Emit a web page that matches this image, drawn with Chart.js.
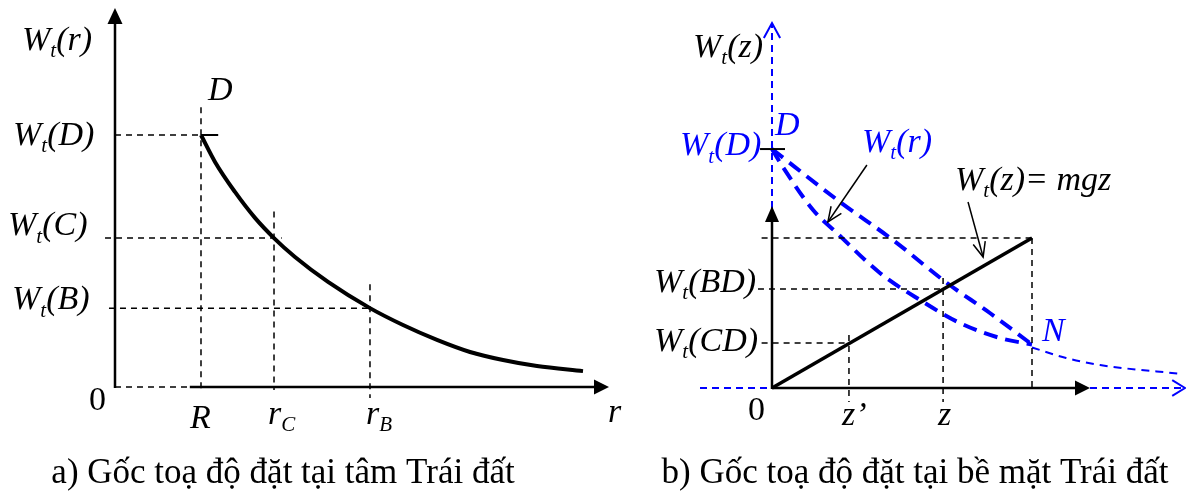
<!DOCTYPE html>
<html><head><meta charset="utf-8">
<script src="https://cdn.jsdelivr.net/npm/chart.js@4.4.1/dist/chart.umd.min.js"></script>
<style>
html,body{margin:0;padding:0;background:#fff;}
#wrap{position:relative;width:1186px;height:496px;overflow:hidden;}
canvas{position:absolute;top:0;}
</style>
</head><body>
<div id="wrap">
<canvas id="ca" width="640" height="496" style="left:0"></canvas>
<canvas id="cb" width="593" height="496" style="left:593px"></canvas>
</div>
<script>
// ---------- Panel a: origin at Earth's centre (r in units of R, W in units of Wt(D)) ----------
const rTickLabels = ['R', 'r_C', 'r_B'];
const rTickValues = [1.0, 1.849, 2.965];
const wTickLabels = ['W_t(D)', 'W_t(C)', 'W_t(B)'];
const wTickValues = [1.0, 0.591, 0.313];
const curveR = [1.0, 1.163, 1.395, 1.628, 1.849, 2.093, 2.477, 2.965, 3.349, 3.744, 4.128, 4.512, 4.907, 5.442];
const curveW = [1.0, 0.893, 0.774, 0.671, 0.591, 0.516, 0.417, 0.313, 0.246, 0.187, 0.139, 0.107, 0.083, 0.063];

// ---------- Panel b: origin at Earth's surface (z in units of h, W in units of mgh) ----------
const zTickLabels = ['z’', 'z'];
const zTickValues = [0.296, 0.658];
const wzTickLabels = ['W_t(CD)', 'W_t(BD)'];
const wzTickValues = [0.30, 0.66];
const zTop = 1.0;           // top of the straight segment (N level)
const mgzZ = [0, 1.0];
const mgzW = [0, 1.0];
const wD_b = 1.593;          // Wt(D) in panel b
const upperZ = [0, 0.262, 0.465, 0.673, 0.838, 1.0];
const upperW = [1.593, 1.24, 0.987, 0.70, 0.50, 0.29];
const lowerZ = [0, 0.042, 0.158, 0.25, 0.415, 0.569, 0.723, 0.877, 1.0];
const lowerW = [1.593, 1.473, 1.187, 1.033, 0.767, 0.587, 0.433, 0.333, 0.29];
const tailZ = [1.0, 1.131, 1.262, 1.581];
const tailW = [0.27, 0.20, 0.153, 0.093];

const BLUE = '#0000ff';
const SERIF = '"Liberation Serif", "Times New Roman", serif';
const LSIZE = 34;

function pts(xs, ys) { return xs.map((x, i) => ({x: x, y: ys[i]})); }
function seg(x1, y1, x2, y2, extra) {
  return Object.assign({data: [{x: x1, y: y1}, {x: x2, y: y2}], borderColor: '#000', borderWidth: 1.5,
    borderDash: [6, 5], pointRadius: 0, showLine: true, fill: false}, extra || {});
}
function rich(ctx, str, x, y, size, color, align, italic) {
  const parts = [];
  let buf = '';
  for (let i = 0; i < str.length; i++) {
    if (str[i] === '_') { if (buf) parts.push({t: buf}); buf = ''; parts.push({t: str[i + 1], sub: true}); i++; }
    else buf += str[i];
  }
  if (buf) parts.push({t: buf});
  const it = italic === false ? '' : 'italic ';
  const font = p => it + (p.sub ? Math.round(size * 0.62) : size) + 'px ' + SERIF;
  ctx.save();
  ctx.fillStyle = color; ctx.textBaseline = 'alphabetic'; ctx.textAlign = 'left';
  let w = 0;
  parts.forEach(p => { ctx.font = font(p); p.w = ctx.measureText(p.t).width; w += p.w; });
  let cx = align === 'center' ? x - w / 2 : (align === 'right' ? x - w : x);
  parts.forEach(p => { ctx.font = font(p); ctx.fillText(p.t, cx, y + (p.sub ? size * 0.22 : 0)); cx += p.w; });
  ctx.restore();
}
function line(ctx, x1, y1, x2, y2, w, color, dash) {
  ctx.save(); ctx.beginPath(); ctx.strokeStyle = color; ctx.lineWidth = w; ctx.setLineDash(dash || []);
  ctx.moveTo(x1, y1); ctx.lineTo(x2, y2); ctx.stroke(); ctx.restore();
}
function tri(ctx, pts, color) {
  ctx.save(); ctx.beginPath(); ctx.fillStyle = color; ctx.moveTo(pts[0], pts[1]);
  ctx.lineTo(pts[2], pts[3]); ctx.lineTo(pts[4], pts[5]); ctx.closePath(); ctx.fill(); ctx.restore();
}
function vee(ctx, tx, ty, fx, fy, len, half, w, color) {
  const a = Math.atan2(ty - fy, tx - fx);
  ctx.save(); ctx.beginPath(); ctx.strokeStyle = color; ctx.lineWidth = w; ctx.setLineDash([]);
  ctx.moveTo(tx - len * Math.cos(a - half), ty - len * Math.sin(a - half));
  ctx.lineTo(tx, ty);
  ctx.lineTo(tx - len * Math.cos(a + half), ty - len * Math.sin(a + half));
  ctx.stroke(); ctx.restore();
}
const baseOpts = (xmin, xmax, ymin, ymax) => ({
  responsive: false, animation: false, events: [],
  layout: {padding: 0, autoPadding: false},
  plugins: {legend: {display: false}, tooltip: {enabled: false}, title: {display: false}},
  scales: {
    x: {type: 'linear', min: xmin, max: xmax, display: false},
    y: {type: 'linear', min: ymin, max: ymax, display: false}
  }
});

// ---------------- Chart a ----------------
const [R, rC, rB] = rTickValues;
const [WD, WC, WB] = wTickValues;
const dsA = [
  seg(0, WD, R, WD),
  seg(-0.116, WC, rC + 0.09, WC),
  seg(-0.07, WB, rB, WB),
  seg(R, WD + 0.11, R, -0.012),
  seg(rC, WC + 0.105, rC, -0.012),
  seg(rB, WB + 0.095, rB, -0.044),
  seg(R, WD, R + 0.2, WD, {borderDash: [], borderWidth: 2}),
  {data: pts(curveR, curveW), borderColor: '#000', borderWidth: 4, pointRadius: 0, showLine: true,
   cubicInterpolationMode: 'monotone', fill: false}
];
const plugA = {
  id: 'panelA',
  beforeDatasetsDraw(chart) {
    const ctx = chart.ctx, X = v => chart.scales.x.getPixelForValue(v), Y = v => chart.scales.y.getPixelForValue(v);
    const x0 = X(0), y0 = Y(0);
    line(ctx, x0, y0 + 1, x0, 22, 2.5, '#000');
    tri(ctx, [x0, 8, x0 - 7.5, 24, x0 + 7.5, 24], '#000');
    line(ctx, x0, y0, X(0.87), y0, 1.5, '#000', [6, 5]);
    line(ctx, X(0.87), y0, 596, y0, 2.5, '#000');
    tri(ctx, [609, y0, 594, y0 - 7.5, 594, y0 + 7.5], '#000');
  },
  afterDraw(chart) {
    const ctx = chart.ctx, X = v => chart.scales.x.getPixelForValue(v), Y = v => chart.scales.y.getPixelForValue(v);
    rich(ctx, 'W_t(r)', 22, 50, LSIZE, '#000');
    rich(ctx, 'D', X(R) + 7, Y(WD) - 35, LSIZE, '#000');
    rich(ctx, wTickLabels[0], 13, Y(WD) + 10, LSIZE, '#000');
    rich(ctx, wTickLabels[1], 8, Y(WC) - 3, LSIZE, '#000');
    rich(ctx, wTickLabels[2], 12, Y(WB) + 1, LSIZE, '#000');
    rich(ctx, '0', 89, Y(0) + 23, LSIZE, '#000', 'left', false);
    rich(ctx, rTickLabels[0], X(R) - 11, Y(0) + 41, LSIZE, '#000');
    rich(ctx, rTickLabels[1], X(rC) - 6, Y(0) + 37, LSIZE, '#000');
    rich(ctx, rTickLabels[2], X(rB) - 4, Y(0) + 37, LSIZE, '#000');
    rich(ctx, 'r', 608, Y(0) + 35, LSIZE, '#000');
    rich(ctx, 'a) Gốc toạ độ đặt tại tâm Trái đất', 283, 483, 35, '#000', 'center', false);
  }
};
new Chart(document.getElementById('ca'), {
  type: 'scatter', data: {datasets: dsA},
  options: baseOpts(-1.3372, 6.1047, -0.4325, 1.5357), plugins: [plugA]
});

// ---------------- Chart b ----------------
const [zP, zZ] = zTickValues;
const [WCD, WBD] = wzTickValues;
const dsB = [
  seg(-0.04, 1.0, zTop, 1.0),
  seg(zTop, 1.0, zTop, 0),
  seg(-0.054, WBD, zZ, WBD),
  seg(zZ, 0.733, zZ, -0.093),
  seg(-0.04, WCD, zP, WCD),
  seg(zP, 0.353, zP, -0.093),
  seg(-0.046, wD_b, 0.05, wD_b, {borderDash: [], borderWidth: 2}),
  {data: pts(mgzZ, mgzW), borderColor: '#000', borderWidth: 3.5, pointRadius: 0, showLine: true, fill: false},
  {data: pts(upperZ, upperW), borderColor: BLUE, borderWidth: 4, borderDash: [14, 8], pointRadius: 0, showLine: true,
   cubicInterpolationMode: 'monotone', fill: false},
  {data: pts(lowerZ, lowerW), borderColor: BLUE, borderWidth: 4, borderDash: [14, 8], pointRadius: 0, showLine: true,
   cubicInterpolationMode: 'monotone', fill: false},
  {data: pts(tailZ, tailW), borderColor: BLUE, borderWidth: 2, borderDash: [8, 6], pointRadius: 0, showLine: true,
   cubicInterpolationMode: 'monotone', fill: false}
];
const plugB = {
  id: 'panelB',
  beforeDatasetsDraw(chart) {
    const ctx = chart.ctx, X = v => chart.scales.x.getPixelForValue(v), Y = v => chart.scales.y.getPixelForValue(v);
    const x0 = X(0), y0 = Y(0);
    // blue dashed axes (origin at Earth's centre)
    line(ctx, x0, y0, x0, 24, 2, BLUE, [7, 5]);
    vee(ctx, x0, 23, x0, 60, 17, 0.5, 2, BLUE);
    line(ctx, 107, y0, x0, y0, 2, BLUE, [7, 5]);
    line(ctx, 497, y0, 592, y0, 2, BLUE, [7, 5]);
    vee(ctx, 592, y0, 550, y0, 15, 0.55, 2, BLUE);
    // black solid axes
    line(ctx, x0, y0 + 1, x0, 220, 2.5, '#000');
    tri(ctx, [x0, 206, x0 - 7, 222, x0 + 7, 222], '#000');
    line(ctx, x0, y0, 484, y0, 2.5, '#000');
    tri(ctx, [497, y0, 482, y0 - 7.5, 482, y0 + 7.5], '#000');
  },
  afterDraw(chart) {
    const ctx = chart.ctx, X = v => chart.scales.x.getPixelForValue(v), Y = v => chart.scales.y.getPixelForValue(v);
    // pointer arrows
    line(ctx, X(0.365), Y(1.487), X(0.215), Y(1.107), 1.5, '#000');
    vee(ctx, X(0.215), Y(1.107), X(0.365), Y(1.487), 16, 0.4, 1.5, '#000');
    line(ctx, X(0.754), Y(1.24), X(0.812), Y(0.873), 1.5, '#000');
    vee(ctx, X(0.812), Y(0.873), X(0.754), Y(1.24), 16, 0.4, 1.5, '#000');
    rich(ctx, 'W_t(z)', 100, 57, LSIZE, '#000');
    rich(ctx, 'W_t(D)', 87, Y(wD_b) + 6, LSIZE, BLUE);
    rich(ctx, 'D', 182, Y(wD_b) - 14, LSIZE, BLUE);
    rich(ctx, 'W_t(r)', 269, 152, LSIZE, BLUE);
    rich(ctx, 'W_t(z)= mgz', 362, 190, LSIZE, '#000');
    rich(ctx, wzTickLabels[1], 61, Y(WBD) + 3, LSIZE, '#000');
    rich(ctx, wzTickLabels[0], 61, Y(WCD) + 8, LSIZE, '#000');
    rich(ctx, 'N', X(zTop) + 10, Y(0.287) - 4, LSIZE, BLUE);
    rich(ctx, '0', X(0) - 24, Y(0) + 32, LSIZE, '#000', 'left', false);
    rich(ctx, zTickLabels[0], X(zP) - 7, Y(0) + 37, LSIZE, '#000');
    rich(ctx, zTickLabels[1], X(zZ) - 5, Y(0) + 37, LSIZE, '#000');
    rich(ctx, 'b) Gốc toạ độ đặt tại bề mặt Trái đất', 322, 483, 35, '#000', 'center', false);
  }
};
new Chart(document.getElementById('cb'), {
  type: 'scatter', data: {datasets: dsB},
  options: baseOpts(-0.68846, 1.5923, -0.72, 2.5867), plugins: [plugB]
});
</script>
</body></html>
